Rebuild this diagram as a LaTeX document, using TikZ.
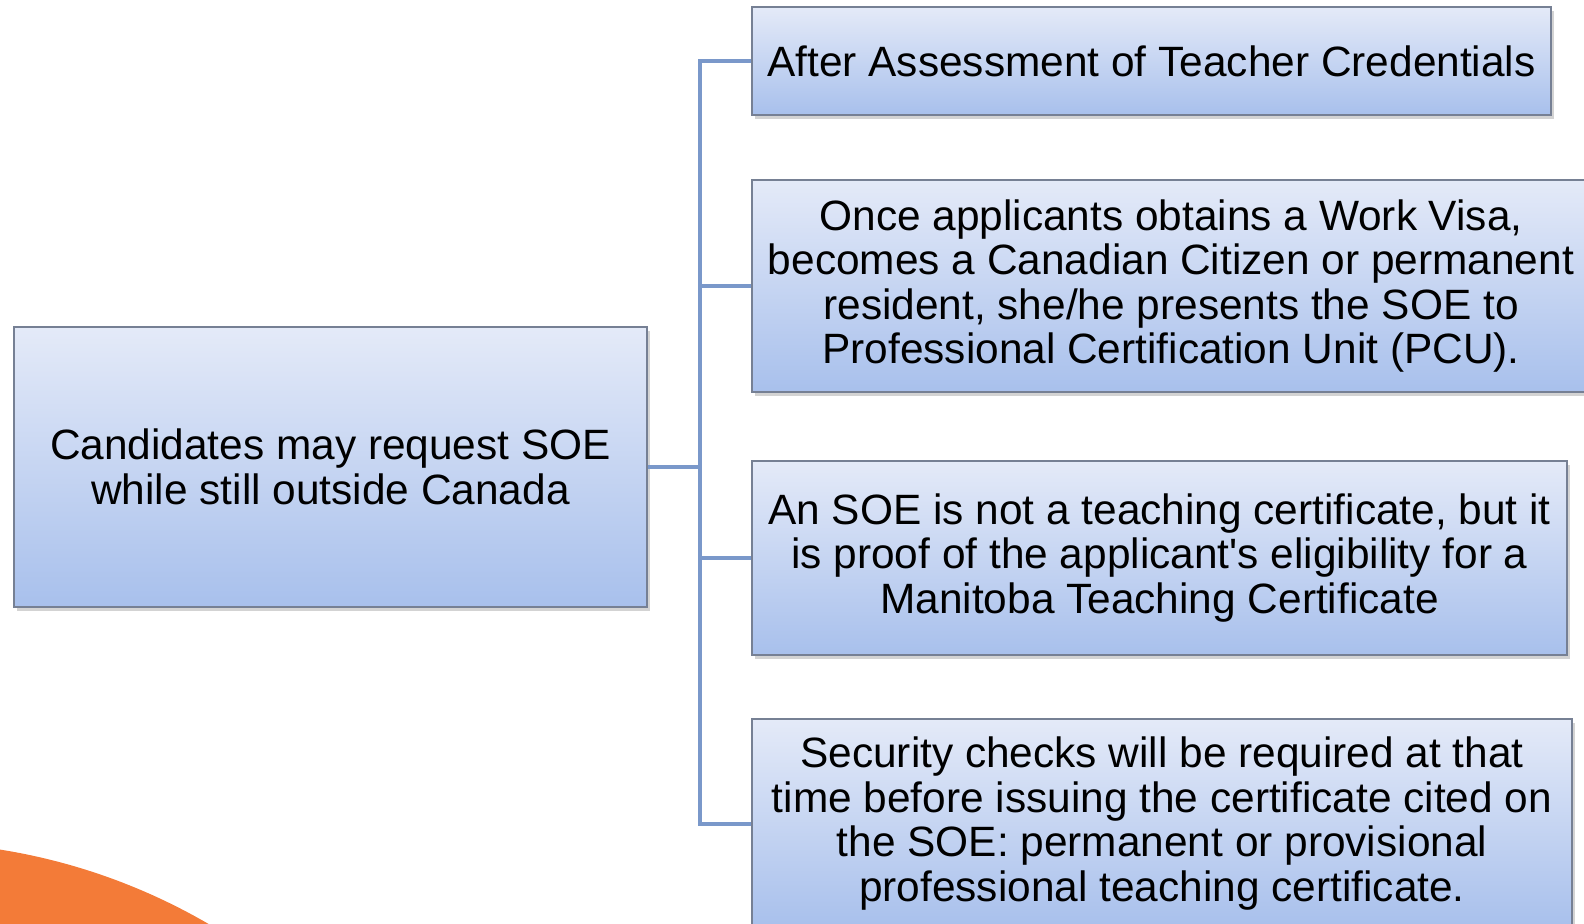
\documentclass[tikz,border=0pt]{standalone}
\usepackage{fontspec}
\setmainfont{Liberation Sans}[Ligatures=TeXOff]
\usetikzlibrary{shadows}
\definecolor{boxtop}{RGB}{228,234,248}
\definecolor{boxbot}{RGB}{168,192,236}
\definecolor{boxedge}{RGB}{118,128,148}
\definecolor{linkblue}{RGB}{122,152,202}
\definecolor{blob}{RGB}{243,123,56}
\begin{document}
\begin{tikzpicture}[x=0.5pt, y=-0.5pt, %um pixel da referencia = 0.5pt
    stepbox/.style={draw=boxedge, line width=0.7pt, top color=boxtop, bottom color=boxbot,
        inner sep=0pt, align=center, font=\fontsize{21.2}{22.2}\selectfont,
        drop shadow={opacity=0.35, shadow xshift=1.5pt, shadow yshift=-2pt}},
    link/.style={draw=linkblue, line width=2pt}]
	\clip (0,0) rectangle (1584,924); %Moldura do desenho
	\fill[blob] (-96,1448) circle[radius=303pt]; %Circulo laranja
	%Caixas
	\node[stepbox, minimum width=316.5pt, minimum height=140pt] (cand) at (330.5,467)
		{Candidates may request SOE\\while still outside Canada};
	\node[stepbox, minimum width=399.5pt, minimum height=54pt] (b1) at (1151.5,61)
		{After Assessment of Teacher Credentials};
	\node[stepbox, minimum width=419pt, minimum height=106pt] (b2) at (1171,286)
		{Once applicants obtains a Work Visa,\\becomes a Canadian Citizen or permanent\\resident, she/he presents the SOE to\\Professional Certification Unit (PCU).};
	\node[stepbox, minimum width=407.5pt, minimum height=97pt] (b3) at (1159.5,558)
		{An SOE is not a teaching certificate, but it\\is proof of the applicant's eligibility for a\\Manitoba Teaching Certificate};
	\node[stepbox, minimum width=410pt, minimum height=104.5pt] (b4) at (1162,823.5)
		{Security checks will be required at that\\time before issuing the certificate cited on\\the SOE: permanent or provisional\\professional teaching certificate.};
	%Ligacoes
	\draw[link] (cand.east) -- ++(52,0) coordinate (trunk);
	\draw[link] (b1.west) -| (trunk) |- (b4.west);
	\draw[link] (trunk |- b2.west) -- (b2.west);
	\draw[link] (trunk |- b3.west) -- (b3.west);
\end{tikzpicture}
\end{document}
